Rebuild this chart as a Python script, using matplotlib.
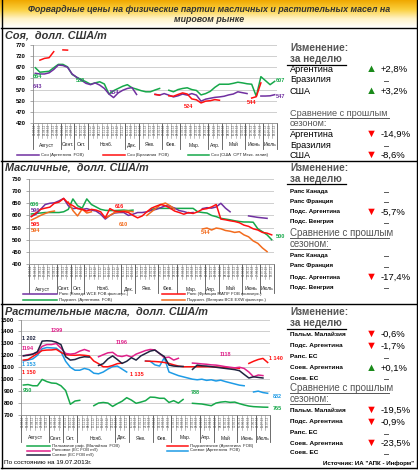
import matplotlib
matplotlib.use("Agg")
import matplotlib.pyplot as plt
import numpy as np
from matplotlib.lines import Line2D
from matplotlib.colors import LinearSegmentedColormap

plt.rcParams['font.family'] = ['Liberation Sans', 'DejaVu Sans']

W, H = 418, 470
nan = np.nan

# x axis: dates of quotes, grouped by month
months = ['Август', 'Сент.', 'Окт.', 'Нояб.', 'Дек.', 'Янв.', 'Фев.', 'Мар.', 'Апр.', 'Май', 'Июнь', 'Июль']
month_counts = [6, 3, 3, 8, 3, 5, 4, 6, 3, 5, 4, 3]
dates = ['02.08.12', '09.08.12', '14.08.12', '17.08.12', '23.08.12', '30.08.12',
         '06.09.12', '14.09.12', '27.09.12',
         '04.10.12', '18.10.12', '25.10.12',
         '01.11.12', '05.11.12', '08.11.12', '12.11.12', '15.11.12', '19.11.12', '22.11.12', '29.11.12',
         '06.12.12', '13.12.12', '20.12.12',
         '10.01.13', '14.01.13', '17.01.13', '24.01.13', '31.01.13',
         '07.02.13', '14.02.13', '21.02.13', '28.02.13',
         '01.03.13', '07.03.13', '14.03.13', '21.03.13', '25.03.13', '28.03.13',
         '04.04.13', '11.04.13', '25.04.13',
         '02.05.13', '08.05.13', '16.05.13', '23.05.13', '30.05.13',
         '06.06.13', '13.06.13', '20.06.13', '27.06.13',
         '04.07.13', '11.07.13', '18.07.13']

# Соя
soy_arg = [643, 640, 640, 645, 660, 680, 678, 670,
           640, 625, 612, 598, 592, 600, 590, 575, 550, 534, 555, 567, 575, 579, 548,
           nan, nan, nan,
           549, 545, 552, 545, 537, 542, 550, 545, 552, 545, 518, 527, 531, 535, 537, 540, 546, 550, 560, 556, 552,
           nan, nan, 541, 541, 542, 547]
soy_bra = [nan, 702, 710, 713, 740, nan, 748, 747,
           nan, nan, nan, nan, nan, nan, nan, nan, nan, nan, nan, nan, nan, nan, nan, nan, nan, nan,
           548, 545, nan, 542, 540, 548, 555, 550, 528, 524, 510, 518, 520, 525, 522,
           nan, nan, nan, nan, nan, nan, 532, 538, 600, nan, nan, nan]
soy_usa = [668, 648, 650, 652, 668, 683, 683, 672,
           638, 625, 615, 605, 594, 600, 605, 595, 550, 565, 575, 585, 592, 578, 572, 565, 560, 560, 568, 575,
           nan,
           567, 560, 570, 575, 578, 570, 566, 546, 552, 562, 580, 594, 594, 594, 598, 603, 600, 596, 594, 540,
           628, 610, 592, 607]

# Масличные
rape_can = [596, 605, 625, 645, 650, 652, 660, 670, 640, 628, 630, 625, 628, 622, 618, 605, 585, 600,
            610, 612, 612, 600, 605, 612, 612, 615, 621, 625, 632, 640, 638, 630, 620, 616, 610, 612,
            nan, 628, 632, 630, 635, 650, 630, 615, nan, nan, nan, 598, 595, 592, 590, 588, nan]
rape_fr = [595, 610, 625, 630, 634, 650, 655, 670, 650, 640, 628, 625, 618, 625, 622, 615, 590, 628,
           618, 616, 616, 612, 600, 590, 598, 615, 630, 638, 645, 640, 630, 618, 612, 605, 612, 608,
           615, 625, 628, 635, 645, 585, 582, 578, 575, 570, 560, 555, 545, 540, 530, 527, 520]
sun_arg = [606, 608, 610, 612, 612, 612, 612, 615, 625, 668, 640, 630, 668, 645, 635, 625, 621, 620,
           620, 621, 622, 620, 622, nan, nan, nan,
           625, 629, 629, 629, 629, 629, 629, 629, 629, 629, 615, 612, 610, 600, 595, 588, 585, 582,
           578, 575, 573, 573, 572, 545, 533, 520, 500]
sun_hun = [581, 590, 600, 608, 615, 618, nan, nan, 655, 620, 598, 626, 610, 615, nan, nan,
           590, 600, 612, 615, 618, 618, 615, nan, nan, 600, 615, 630, 645, 651, 640, 626,
           nan, nan, nan, nan, nan,
           544, 548, 540, 548, 545, 538, 535, 530, 533, 520, 512, 495, 485, 466, 451, nan]

# Растительные масла
palm_mal = [951, 955, 945, 945, 998, 980, 968, 965, 945, 905, 790, 817, 823, nan, nan, 778, 800, 805,
            800, 772, 795, 815, 845, 825, 798, 808, 820, 850, 848, 840, 840, 805, 820, 800, 830, nan,
            798, 795, 792, 785, 778, 800, 808, 812, 806, 808, 795, 784, 775, 770, 768, 766, 765]
rape_eu = [1194, 1205, 1210, 1225, 1275, 1290, 1290, 1299, 1260, 1216, 1210, 1215, 1235, 1249, 1235,
           nan, 1188, 1205, 1221, 1225, 1196, 1190, 1200, 1185, 1210, 1225, 1240, 1249, 1245, 1215,
           1180, 1185, 1160, 1175, nan, nan, 1135, 1132, 1128, 1125, 1120, 1118, 1112, 1105, 1100,
           1095, 1100, 1090, 1060, 1020, 1035, 1030, nan]
soy_eu = [1197, 1200, 1210, 1230, 1319, 1322, 1320, 1310, 1290, 1188, 1160, 1165, 1180, 1188, 1185,
          nan, 1115, 1130, 1170, 1195, 1165, 1132, 1150, 1180, 1160, 1195, 1215, 1235, 1244, 1215,
          1190, 1118, 1110, 1107, 1107, nan, 1082, 1118, 1112, 1110, 1105, 1100, 1095, 1090, 1085,
          1080, 1071, 1040, 1010, 1020, 1015, 1010, nan]
sunoil_arg = [1160, 1165, 1190, 1215, 1240, 1244, 1245, 1250, 1225, 1205, 1202, 1200, 1203, 1200, 1195,
              1152, 1130, 1104, 1104, 1115, 1130, 1135, nan, nan, nan, nan, 1152, 1150, 1148, 1145,
              1140, 1132, 1120, 1110, 1104, 1104, 1104, 1104, 1104, 1104, 1104, 1102, 1100, 1098, 1095,
              1095, 1090, nan, 1132, 1150, 1165, 1174, 1140]
soyoil_arg = [1153, 1160, 1170, 1200, 1255, 1265, 1262, 1260, 1230, 1150, 1100, 1075, 1075, 1090, 1080,
              1050, 1045, 1060, 1085, 1105, 1110, 1085, 1060, nan, nan, nan, 1152, 1150, 1120, 1110,
              1180, 1060, 1045, 1030, 1020, 1010, 1000, 995, 1000, 990, 995, 985, 992, 980, 970,
              960, 950, 945, nan, 893, 900, 888, 882]

PURPLE, RED, GREEN, ORANGE = '#7030a0', '#ff1010', '#16a84a', '#f26b1d'
PINK, NAVY, BLUE = '#e0208a', '#1f2440', '#1e9be6'

fig = plt.figure(figsize=(W / 100, H / 100), dpi=100)
fig.patch.set_facecolor('white')


def fx(px):
    return px / W


def fy(py):
    return 1 - py / H


def txt(x, y, s, size, color='black', weight='normal', ha='left', style='normal'):
    fig.text(fx(x), fy(y), s, fontsize=size, color=color, fontweight=weight,
             ha=ha, va='center', fontstyle=style)


def hline(x0, x1, y, color='black', lw=0.8):
    fig.add_artist(Line2D([fx(x0), fx(x1)], [fy(y), fy(y)], color=color, lw=lw))


# banner
bax = fig.add_axes([0, fy(28), 1, 28 / H])
cmap = LinearSegmentedColormap.from_list('b', ['#f0a800', '#fbcf3c', '#fff3c8', '#ffffff'])
bax.imshow(np.linspace(0, 1, 60).reshape(-1, 1), aspect='auto', cmap=cmap, extent=[0, 1, 0, 1])
bax.axis('off')
txt(209, 9, 'Форвардные цены на физические партии масличных и растительных масел на', 6.4,
    color='#333333', weight='bold', ha='center', style='italic')
txt(209, 20, 'мировом рынке', 6.4, color='#333333', weight='bold', ha='center', style='italic')

# frame
for y in (28, 161, 304):
    hline(1, 417, y, lw=1.0)
fig.add_artist(Line2D([fx(1.5), fx(1.5)], [fy(0), fy(468)], color='black', lw=1.0))
fig.add_artist(Line2D([fx(416.5), fx(416.5)], [fy(0), fy(468)], color='black', lw=1.0))
hline(1, 417, 468, lw=1.0)

N = len(dates)
x = np.arange(N)


def chart(box, ylim, ystep, series, month_dy):
    left, top, right, bottom = box
    hpx = bottom - top
    ax = fig.add_axes([fx(left), fy(bottom), (right - left) / W, hpx / H])
    for vals, c in series:
        ax.plot(x, np.array(vals, dtype=float), color=c, lw=1.1, solid_joinstyle='round')
    ax.set_xlim(-0.5, N - 0.5)
    ax.set_ylim(*ylim)
    ax.set_yticks(np.arange(ylim[0], ylim[1] + 1, ystep))
    ax.yaxis.grid(True, color='#c8c8c8', lw=0.6)
    ax.set_axisbelow(True)
    ax.set_xticks([])
    for s in ('top', 'right'):
        ax.spines[s].set_visible(False)
    ax.spines['left'].set_color('#8a8a8a')
    ax.spines['bottom'].set_color('#8a8a8a')
    ax.spines['left'].set_linewidth(0.6)
    ax.spines['bottom'].set_linewidth(0.6)
    ax.tick_params(axis='y', length=2, width=0.5, color='#8a8a8a', labelsize=4.2, pad=3)
    for lab in ax.get_yticklabels():
        lab.set_fontweight('bold')
    tr = ax.get_xaxis_transform()
    for i, d in enumerate(dates):
        ax.text(i, -1.2 / hpx, d, transform=tr, rotation=90, fontsize=2.1, ha='center', va='top',
                color='#505050', clip_on=False)
        ax.plot([i - 0.5, i - 0.5], [0, -15 / hpx], transform=tr, color='#8a8a8a', lw=0.4, clip_on=False)
    start = 0
    for m, c in zip(months, month_counts):
        ax.plot([start - 0.5, start - 0.5], [0, -(month_dy + 4) / hpx], transform=tr,
                color='#555555', lw=0.6, clip_on=False)
        ax.text(start + (c - 1) / 2, -month_dy / hpx, m, transform=tr, fontsize=3.6, ha='center',
                va='center', color='#222222', clip_on=False)
        start += c
    ax.plot([N - 0.5, N - 0.5], [0, -(month_dy + 4) / hpx], transform=tr, color='#555555', lw=0.6,
            clip_on=False)
    return ax


def legend_item(x0, x1, y, color, label):
    hline(x0, x1, y, color=color, lw=1.1)
    txt(x1 + 2, y, label, 3.1, color='#222222')


# ---------- Соя ----------
txt(5, 36, 'Соя,  долл. США/т', 7.8, color='#333333', weight='bold', style='italic')
chart((33, 45, 277, 123), (420, 770), 50, [(soy_usa, GREEN), (soy_arg, PURPLE), (soy_bra, RED)], 22)
for xx, yy, s, c in [(33, 76, '664', GREEN), (33, 87, '643', PURPLE), (76, 80, '582', GREEN),
                     (110, 92, '534', PURPLE), (184, 107, '524', RED), (247, 102, '544', RED),
                     (276, 80, '607', GREEN), (276, 96, '547', PURPLE)]:
    txt(xx, yy, s, 4.0, color=c, weight='bold')
legend_item(17, 39, 155, PURPLE, 'Соя (Аргентина  FOB)')
legend_item(103, 125, 155, RED, 'Соя (Бразилия  FOB)')
legend_item(188, 209, 155, GREEN, 'Соя (США  CPT Мекс. залив)')


def up(x0, y0):
    txt(x0, y0, '▲', 8.0, color='#1a8a1a')


def down(x0, y0):
    txt(x0, y0, '▼', 8.0, color='#ff0000')


def header(y0, size=7.2):
    txt(290, y0, 'Изменение:', size, color='#555555', weight='bold')
    txt(290, y0 + 10.5, 'за неделю', size, color='#555555', weight='bold')
    hline(287, 346, y0 + 16.5, lw=0.9)


def compare(y0, size=6.6):
    txt(290, y0, 'Сравнение с прошлым', size, color='#555555')
    hline(290, 389, y0 + 5, color='#555555', lw=0.7)
    txt(290, y0 + 11, 'сезоном:', size, color='#555555')
    hline(290, 330, y0 + 16, color='#555555', lw=0.7)


def row(y0, name, arrow, value, size, nsize, weight='normal'):
    txt(290, y0, name, nsize, weight=weight)
    if arrow == 'up':
        up(366, y0)
    elif arrow == 'down':
        down(366, y0)
    if value == '–':
        txt(384, y0 + 2, '–', 6.5)
    else:
        txt(381, y0, value, size)


header(48)
row(69, 'Аргентина', 'up', '+2,8%', 6.8, 6.6)
row(80, 'Бразилия', None, '–', 6.8, 6.6)
row(91, 'США', 'up', '+3,2%', 6.8, 6.6)
compare(113)
row(134, 'Аргентина', 'down', '-14,9%', 6.8, 6.6)
row(145, 'Бразилия', None, '–', 6.8, 6.6)
row(155, 'США', 'down', '-8,6%', 6.8, 6.6)

# ---------- Масличные ----------
txt(5, 167, 'Масличные,  долл. США/т', 7.8, color='#333333', weight='bold', style='italic')
chart((29, 179, 274, 264), (400, 750), 50,
      [(sun_arg, GREEN), (rape_can, PURPLE), (sun_hun, ORANGE), (rape_fr, RED)], 25)
for xx, yy, s, c in [(30, 204, '606', GREEN), (31, 211, '596', PURPLE), (31, 224, '595', RED),
                     (31, 231, '594', ORANGE), (115, 206, '616', RED), (119, 224, '610', ORANGE),
                     (201, 233, '544', ORANGE), (276, 237, '500', GREEN)]:
    txt(xx, yy, s, 4.0, color=c, weight='bold')
legend_item(23, 57, 294, PURPLE, 'Рапс (Канада WCE FOB фьючерс.)')
legend_item(162, 185, 294, RED, 'Рапс (Франция MATIF FOB фьючерс.)')
legend_item(23, 57, 300, GREEN, 'Подсолн. (Аргентина  FOB)')
legend_item(162, 185, 300, ORANGE, 'Подсолн. (Венгрия BCE EXW фьючерс.)')

header(168)
row(191, 'Рапс Канада', None, '–', 6.8, 4.4, 'bold')
row(201, 'Рапс Франция', None, '–', 6.8, 4.4, 'bold')
row(212, 'Подс. Аргентина', 'down', '-5,7%', 6.8, 4.4, 'bold')
row(222, 'Подс. Венгрия', None, '–', 6.8, 4.4, 'bold')
compare(233, 7.0)
row(255, 'Рапс Канада', None, '–', 6.8, 4.4, 'bold')
row(266, 'Рапс Франция', None, '–', 6.8, 4.4, 'bold')
row(277, 'Подс. Аргентина', 'down', '-17,4%', 6.8, 4.4, 'bold')
row(287, 'Подс. Венгрия', None, '–', 6.8, 4.4, 'bold')

# ---------- Растительные масла ----------
txt(5, 312, 'Растительные масла,  долл. США/т', 7.8, color='#333333', weight='bold', style='italic')
chart((21, 319.5, 270, 415), (700, 1500), 100,
      [(palm_mal, GREEN), (soyoil_arg, BLUE), (sunoil_arg, RED), (rape_eu, PINK), (soy_eu, NAVY)], 23)
for xx, yy, s, c in [(22, 338, '1 202', NAVY), (22, 348, '1194', PINK), (22, 365, '1 153', BLUE),
                     (22, 372, '1 150', RED), (23, 391, '950', GREEN), (51, 331, '1299', PINK),
                     (116, 343, '1196', PINK), (130, 374, '1 135', RED), (191, 393, '788', GREEN),
                     (220, 355, '1118', PINK), (269, 358, '1 140', RED), (273, 396, '882', BLUE),
                     (273, 408, '765', GREEN)]:
    txt(xx, yy, s, 4.0, color=c, weight='bold')
legend_item(27, 50, 446, GREEN, 'Пальмовое раф. (Малайзия  FOB)')
legend_item(27, 50, 450.5, PINK, 'Рапсовое (ЕС FOB mill)')
legend_item(27, 50, 455, NAVY, 'Соевое (ЕС FOB mill)')
legend_item(167, 188, 446, RED, 'Подсолнечное (Аргентина  FOB)')
legend_item(167, 188, 450.5, BLUE, 'Соевое (Аргентина  FOB)')

header(312)
row(334, 'Пальм. Малайзия', 'down', '-0,6%', 6.8, 4.6, 'bold')
row(346, 'Подс. Аргентина', 'down', '-1,7%', 6.8, 4.6, 'bold')
row(357, 'Рапс. ЕС', None, '–', 6.8, 4.6, 'bold')
row(368, 'Соев. Аргентина', 'up', '+0,1%', 6.8, 4.6, 'bold')
row(378, 'Соев. ЕС', None, '–', 6.8, 4.6, 'bold')
compare(388, 7.0)
row(410, 'Пальм. Малайзия', 'down', '-19,5%', 6.8, 4.6, 'bold')
row(422, 'Подс. Аргентина', 'down', '-0,9%', 6.8, 4.6, 'bold')
row(433, 'Рапс. ЕС', None, '–', 6.8, 4.6, 'bold')
row(443, 'Соев. Аргентина', 'down', '-23,5%', 6.8, 4.6, 'bold')
row(453, 'Соев. ЕС', None, '–', 6.8, 4.6, 'bold')

txt(4, 463, 'По состоянию на 19.07.2013г.', 4.6)
txt(414, 463, 'Источник: ИА "АПК - Информ"', 4.4, weight='bold', ha='right')

fig.savefig('out.png', dpi=100)
